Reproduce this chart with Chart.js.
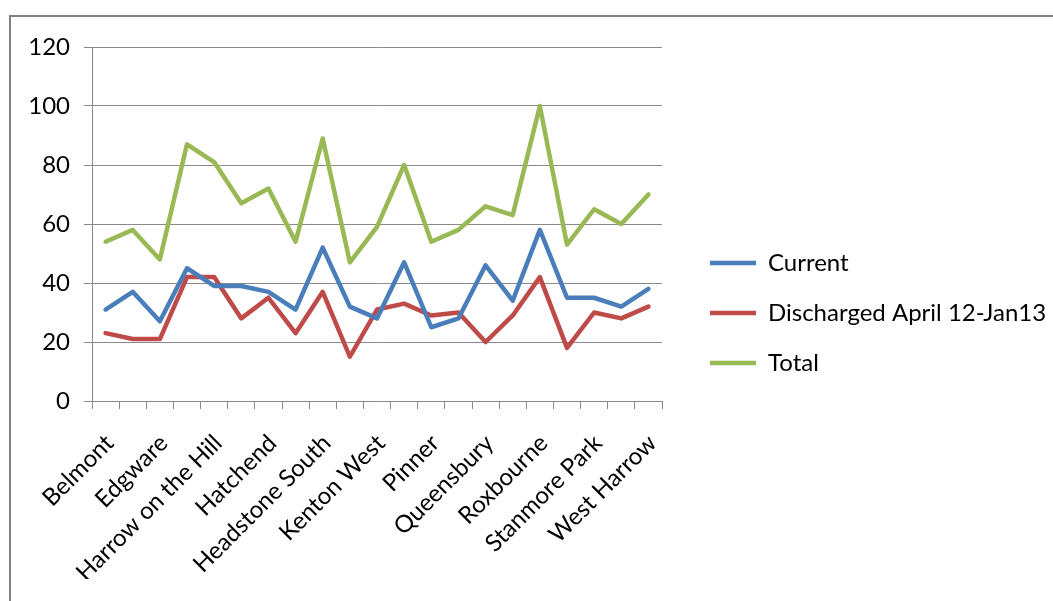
<!DOCTYPE html>
<html>
<head>
<meta charset="utf-8">
<script src="https://cdn.jsdelivr.net/npm/chart.js@4/dist/chart.umd.min.js"></script>
<style>
  html, body { margin: 0; padding: 0; background: #fff; width: 1053px; height: 601px; overflow: hidden; }
  #frame { position: absolute; left: 9px; top: 15px; width: 1060px; height: 600px;
           border-left: 2px solid #808080; border-top: 2px solid #808080; }
  #wrap { position: absolute; left: 11px; top: 17px; width: 1042px; height: 584px; }
</style>
</head>
<body>
<div id="frame"></div>
<div id="wrap"><canvas id="c"></canvas></div>
<script>
const categories = ["Belmont", "Canons", "Edgware", "Greenhill", "Harrow on the Hill", "Harrow Weald",
  "Hatchend", "Headstone North", "Headstone South", "Kenton East", "Kenton West", "Marlborough",
  "Pinner", "Pinner South", "Queensbury", "Rayners Lane", "Roxbourne", "Roxeth", "Stanmore Park",
  "Wealdstone", "West Harrow"];
const currentValues    = [31, 37, 27, 45, 39, 39, 37, 31, 52, 32, 28, 47, 25, 28, 46, 34, 58, 35, 35, 32, 38];
const dischargedValues = [23, 21, 21, 42, 42, 28, 35, 23, 37, 15, 31, 33, 29, 30, 20, 29, 42, 18, 30, 28, 32];
const totalValues      = [54, 58, 48, 87, 81, 67, 72, 54, 89, 47, 59, 80, 54, 58, 66, 63, 100, 53, 65, 60, 70];
const seriesNames = ["Current", "Discharged April 12-Jan13", "Total"];
const yTicks = [0, 20, 40, 60, 80, 100, 120];

const FAMILY = "Lato, 'Open Sans', sans-serif";
const FONT = { family: FAMILY, size: 24 };
const XFONT = { family: FAMILY, size: 24 };
const GRID = '#8a8a8a';

function ds(label, data, color) {
  return { label, data, borderColor: color, backgroundColor: color, borderWidth: 4.5,
           pointRadius: 0, pointHoverRadius: 0, tension: 0, fill: false,
           borderJoinStyle: 'round', borderCapStyle: 'round' };
}

new Chart(document.getElementById('c'), {
  type: 'line',
  data: {
    labels: categories,
    datasets: [
      ds(seriesNames[0], currentValues, '#4a7ebb'),
      ds(seriesNames[1], dischargedValues, '#be4b48'),
      ds(seriesNames[2], totalValues, '#98b954')
    ]
  },
  options: {
    responsive: true,
    maintainAspectRatio: false,
    animation: false,
    layout: { padding: { top: 30, right: 0, bottom: 22, left: 0 } },
    plugins: {
      tooltip: { enabled: false },
      legend: {
        position: 'right',
        align: 'center',
        maxWidth: 369,
        labels: {
          usePointStyle: true,
          pointStyle: 'line',
          pointStyleWidth: 46,
          padding: 26,
          color: '#000',
          font: { family: FAMILY, size: 24, lineHeight: 1 }
        }
      }
    },
    scales: {
      x: {
        type: 'category',
        offset: true,
        grid: { offset: true, drawOnChartArea: false, drawTicks: true, tickLength: 8, color: GRID },
        border: { display: true, color: GRID, width: 1 },
        ticks: {
          autoSkip: false, maxRotation: 45, minRotation: 45, color: '#000', font: XFONT, padding: 20,
          labelOffset: 4,
          callback: function(v, i) { return i % 2 === 0 ? categories[i] : ''; }
        },
        afterFit: function(s) { s.height = 178; }
      },
      y: {
        min: 0, max: 120,
        grid: { color: GRID, tickLength: 8, drawTicks: true },
        border: { display: true, color: GRID, width: 1 },
        ticks: { stepSize: 20, color: '#000', font: FONT, padding: 14,
                 callback: function(v) { return yTicks.includes(v) ? String(v) : ''; } },
        afterFit: function(s) { s.width = 81; }
      },
      gap: {
        type: 'linear', position: 'right', display: true,
        grid: { display: false }, border: { display: false }, ticks: { display: false },
        afterFit: function(s) { s.width = 22; }
      }
    }
  }
});
</script>
</body>
</html>
